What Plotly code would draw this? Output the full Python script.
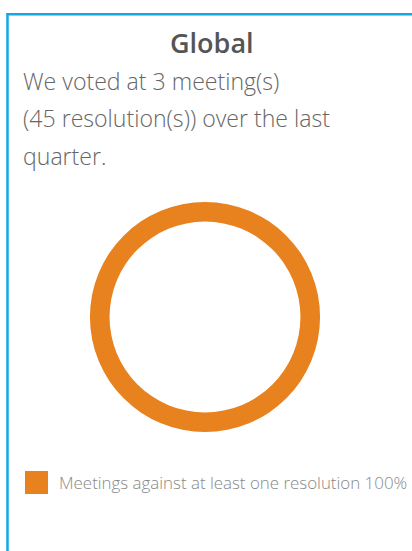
import plotly.graph_objects as go

W, H = 412, 551

region = "Global"
meetings = 3
resolutions = 45
labels = ["Meetings against at least one resolution"]
values = [3]
colors = ["#e8821e"]
intro_lines = [
    f"We voted at {meetings} meeting(s)",
    f"({resolutions} resolution(s)) over the last",
    "quarter.",
]

def py(v):
    return 1 - v / H

def px(v):
    return v / W

cx, cy, r = 205, 317, 115
fig = go.Figure()
fig.add_trace(go.Pie(
    labels=labels, values=values, hole=0.83, sort=False,
    marker=dict(colors=colors, line=dict(width=0)),
    textinfo="none", hoverinfo="label+percent", showlegend=False,
    domain=dict(x=[px(cx - r), px(cx + r)], y=[py(cy + r), py(cy - r)]),
))

font_main = "Open Sans, Noto Sans, sans-serif"
ann = []
ann.append(dict(text=region, x=px(211.5), y=py(43), xref="paper", yref="paper",
                xanchor="center", yanchor="middle", showarrow=False,
                font=dict(family=font_main, size=27, color="#555555", weight=600)))
for i, line in enumerate(intro_lines):
    ann.append(dict(text=line, x=px(21), y=py(81 + 37.5 * i), xref="paper", yref="paper",
                    xanchor="left", yanchor="middle", showarrow=False,
                    font=dict(family=font_main, size=23.1, color="#666666", weight=300)))
total = sum(values)
for i, (lab, v) in enumerate(zip(labels, values)):
    ann.append(dict(text=f"{lab} {round(100 * v / total)}%", x=px(57), y=py(482 + 30 * i),
                    xref="paper", yref="paper", xanchor="left", yanchor="middle",
                    showarrow=False,
                    font=dict(family=font_main, size=16.9, color="#888888", weight=300)))

shapes = [
    dict(type="line", xref="paper", yref="paper", x0=px(6.5), x1=1.05, y0=py(14.3), y1=py(14.3),
         line=dict(color="#12a8e2", width=2.5)),
    dict(type="line", xref="paper", yref="paper", x0=px(7.5), x1=px(7.5), y0=py(13), y1=-0.05,
         line=dict(color="#12a8e2", width=2.5)),
]
for i, c in enumerate(colors):
    shapes.append(dict(type="rect", xref="paper", yref="paper",
                       x0=px(25), x1=px(48), y0=py(471 + 30 * i), y1=py(494 + 30 * i),
                       fillcolor=c, line=dict(width=0)))

fig.update_layout(width=W, height=H, margin=dict(l=0, r=0, t=0, b=0),
                  paper_bgcolor="white", plot_bgcolor="white",
                  annotations=ann, shapes=shapes, showlegend=False)
fig.write_html("out.html", config={"displayModeBar": False})
